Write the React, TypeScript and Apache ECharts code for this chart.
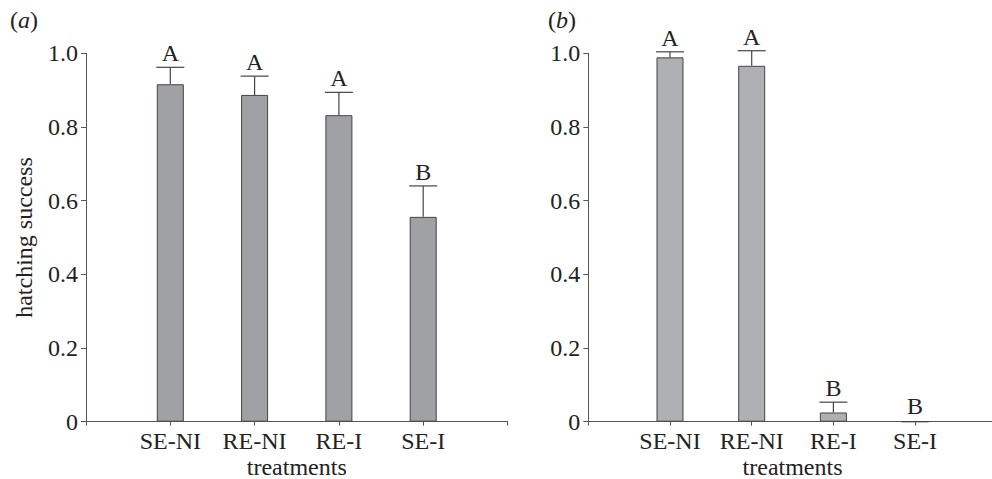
import React, { useEffect, useRef } from "react";
import * as echarts from "echarts";

const categories = ["SE-NI", "RE-NI", "RE-I", "SE-I"];
const meanA = [0.916, 0.887, 0.832, 0.556];
const errA = [0.046, 0.051, 0.062, 0.084];
const lettersA = ["A", "A", "A", "B"];
const meanB = [0.989, 0.966, 0.025, 0];
const errB = [0.015, 0.041, 0.028, 0];
const lettersB = ["A", "A", "B", "B"];
const yTicks = [0, 0.2, 0.4, 0.6, 0.8, 1.0];

const FONT = '"Liberation Serif", "Times New Roman", serif';
const FS = 24;
const AXIS_COLOR = "#555";
const TEXT_COLOR = "#222";

export default function App() {
  const ref = useRef<HTMLDivElement>(null);
  useEffect(() => {
    if (!ref.current) return;
    const chart = echarts.init(ref.current, undefined, { renderer: "svg" });

    const mkX = (gridIndex: number, showName: boolean) => ({
      type: "value",
      gridIndex,
      min: 0,
      max: categories.length + 1,
      interval: 1,
      splitLine: { show: false },
      axisLine: { show: true, lineStyle: { color: AXIS_COLOR, width: 1 } },
      axisTick: { show: true, length: 4, lineStyle: { color: AXIS_COLOR } },
      axisLabel: {
        show: true,
        margin: 7,
        fontFamily: FONT,
        fontSize: FS,
        lineHeight: FS,
        color: TEXT_COLOR,
        formatter: (v: number) => categories[v - 1] ?? "",
        showMinLabel: true,
        showMaxLabel: true,
      },
      name: showName ? "treatments" : "",
      nameLocation: "middle",
      nameGap: 34,
      nameMoveOverlap: false,
      nameTextStyle: { fontFamily: FONT, fontSize: FS, lineHeight: 22, color: TEXT_COLOR },
    });

    const mkY = (gridIndex: number, showName: boolean) => ({
      type: "value",
      gridIndex,
      min: yTicks[0],
      max: yTicks[yTicks.length - 1],
      interval: 0.2,
      splitLine: { show: false },
      axisLine: { show: true, lineStyle: { color: AXIS_COLOR, width: 1 } },
      axisTick: { show: true, length: 5, lineStyle: { color: AXIS_COLOR } },
      axisLabel: {
        margin: 8,
        fontFamily: FONT,
        fontSize: FS,
        color: TEXT_COLOR,
        formatter: (v: number) => (v === 0 ? "0" : v.toFixed(1)),
      },
      name: showName ? "hatching success" : "",
      nameLocation: "middle",
      nameGap: 50,
      nameRotate: 90,
      nameTextStyle: { fontFamily: FONT, fontSize: FS, color: TEXT_COLOR },
    });

    const mkBar = (idx: number, mean: number[], color: string) => ({
      type: "bar",
      xAxisIndex: idx,
      yAxisIndex: idx,
      barWidth: 27,
      data: mean.map((v, i) => [i + 1, v]),
      itemStyle: { color, borderColor: "#444", borderWidth: 1 },
      z: 2,
    });

    const mkErr = (idx: number, mean: number[], err: number[], letters: string[]) => ({
      type: "custom",
      xAxisIndex: idx,
      yAxisIndex: idx,
      z: 3,
      data: mean.map((v, i) => [i + 1, v, err[i], i]),
      renderItem: (params: any, api: any) => {
        const x = api.value(0);
        const m = api.value(1);
        const e = api.value(2);
        const i = api.value(3);
        const top = api.coord([x, m]);
        const cap = api.coord([x, m + e]);
        const half = 14;
        const children: any[] = [];
        if (e > 0) {
          children.push({
            type: "line",
            shape: { x1: top[0], y1: top[1], x2: cap[0], y2: cap[1] },
            style: { stroke: "#444", lineWidth: 1.2 },
          });
          children.push({
            type: "line",
            shape: { x1: cap[0] - half, y1: cap[1], x2: cap[0] + half, y2: cap[1] },
            style: { stroke: "#444", lineWidth: 1.2 },
          });
        }
        children.push({
          type: "text",
          style: {
            x: cap[0],
            y: cap[1] - (e > 0 ? 14 : 16),
            text: letters[i],
            fontFamily: FONT,
            fontSize: FS,
            fill: TEXT_COLOR,
            align: "center",
            verticalAlign: "middle",
          },
        });
        return { type: "group", children };
      },
    });

    chart.setOption({
      animation: false,
      backgroundColor: "#fff",
      grid: [
        { left: 86, top: 53.3, width: 421.5, height: 368.4, containLabel: false, outerBoundsMode: "none" },
        { left: 588.3, top: 53.3, width: 408.5, height: 368.4, containLabel: false, outerBoundsMode: "none" },
      ],
      xAxis: [mkX(0, true), mkX(1, true)],
      yAxis: [mkY(0, true), mkY(1, false)],
      series: [
        mkBar(0, meanA, "#a0a1a5"),
        mkBar(1, meanB, "#afb0b4"),
        mkErr(0, meanA, errA, lettersA),
        mkErr(1, meanB, errB, lettersB),
      ],
      graphic: [
        {
          type: "text",
          left: 10,
          top: 8,
          style: {
            text: "({i|a})",
            fontFamily: FONT,
            fontSize: FS,
            fill: TEXT_COLOR,
            rich: { i: { fontStyle: "italic", fontFamily: FONT, fontSize: FS, fill: TEXT_COLOR } },
          },
        },
        {
          type: "text",
          left: 548,
          top: 8,
          style: {
            text: "({i|b})",
            fontFamily: FONT,
            fontSize: FS,
            fill: TEXT_COLOR,
            rich: { i: { fontStyle: "italic", fontFamily: FONT, fontSize: FS, fill: TEXT_COLOR } },
          },
        },
      ],
    });
    return () => chart.dispose();
  }, []);

  return <div ref={ref} style={{ width: 992, height: 479, position: "absolute", left: 0, top: 0 }} />;
}
